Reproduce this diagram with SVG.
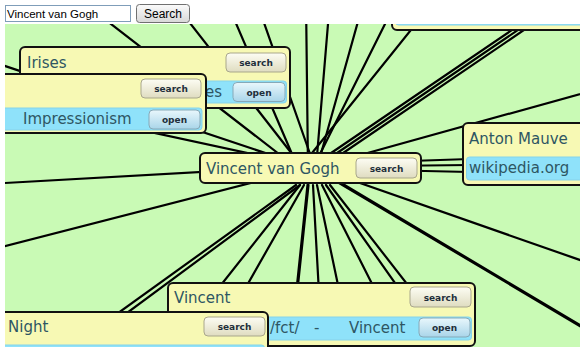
<svg xmlns="http://www.w3.org/2000/svg" width="580" height="347" viewBox="0 0 580 347">
  <defs>
    <linearGradient id="gSearch" x1="0" y1="0" x2="0" y2="1">
      <stop offset="0" stop-color="#fdfdf4"/>
      <stop offset="1" stop-color="#dfdcc0"/>
    </linearGradient>
    <linearGradient id="gOpen" x1="0" y1="0" x2="0" y2="1">
      <stop offset="0" stop-color="#e9f7fc"/>
      <stop offset="1" stop-color="#a9d5e9"/>
    </linearGradient>
    <linearGradient id="gBtn" x1="0" y1="0" x2="0" y2="1">
      <stop offset="0" stop-color="#fbfbfb"/>
      <stop offset="1" stop-color="#d8d8d8"/>
    </linearGradient>
    <clipPath id="view">
      <rect x="5" y="24" width="575" height="323"/>
    </clipPath>
  </defs>
  <style>
    .box{fill:#f7f9b4;stroke:#111;stroke-width:2}
    .row{fill:#8fe2fa;stroke:#86d3ea;stroke-width:1}
    .title{font-family:"DejaVu Sans",Verdana,sans-serif;font-size:15px;fill:#2e5663}
    .bs{fill:url(#gSearch);stroke:#a9a78c;stroke-width:1}
    .bo{fill:url(#gOpen);stroke:#86a9b8;stroke-width:1}
    .bt{font-family:"DejaVu Sans",Verdana,sans-serif;font-weight:bold;font-size:9px;fill:#1f2f3b;text-anchor:middle}
    #edges line{stroke:#000;stroke-width:2.2;stroke-linecap:round}
    #edges line.thick{stroke-width:3.2}
    .ui{font-family:"Liberation Sans",Arial,sans-serif;fill:#000}
  </style>

  <rect width="580" height="347" fill="#fff"/>

  <!-- query bar -->
  <g id="searchbar">
    <rect x="5.5" y="5.5" width="125" height="16" fill="#fff" stroke="#7f9db9"/>
    <text class="ui" x="7" y="18" font-size="11.5">Vincent van Gogh</text>
    <rect x="136.5" y="4.5" width="53" height="18" rx="3" fill="url(#gBtn)" stroke="#707070"/>
    <text class="ui" x="163" y="18" font-size="12" text-anchor="middle">Search</text>
  </g>

  <g clip-path="url(#view)">
    <rect x="5" y="24" width="575" height="323" fill="#c9fab5"/>

    <g id="edges">
      <!-- upward -->
      <line x1="80" y1="0" x2="297" y2="168"/>
      <line x1="172" y1="0" x2="303" y2="168"/>
      <line x1="226" y1="0" x2="298" y2="168"/>
      <line x1="256" y1="0" x2="315" y2="168"/>
      <line x1="306" y1="0" x2="308" y2="168"/>
      <line x1="330" y1="0" x2="316" y2="168"/>
      <line x1="364" y1="0" x2="317" y2="168"/>
      <line x1="397" y1="0" x2="313" y2="168"/>
      <line x1="435" y1="0" x2="300" y2="168"/>
      <line x1="556" y1="0" x2="312" y2="166"/>
      <line x1="562" y1="0" x2="318" y2="166"/>
      <line x1="568" y1="0" x2="324" y2="166"/>
      <!-- left -->
      <line x1="0" y1="64.3" x2="310" y2="168"/>
      <line x1="0" y1="99.6" x2="310" y2="166.6"/>
      <line x1="0" y1="183.3" x2="320" y2="165.2"/>
      <line x1="0" y1="247.4" x2="310" y2="167.8"/>
      <!-- right -->
      <line x1="380" y1="162" x2="470" y2="159"/>
      <line x1="380" y1="166" x2="470" y2="165"/>
      <line x1="380" y1="170" x2="470" y2="172"/>
      <line x1="310" y1="169" x2="600" y2="88.5"/>
      <line x1="330" y1="172.5" x2="600" y2="267"/>
      <line class="thick" x1="330" y1="177" x2="616" y2="347"/>
      <!-- downward -->
      <line x1="296" y1="185" x2="71" y2="347"/>
      <line x1="300" y1="185" x2="81" y2="347"/>
      <line x1="300" y1="185" x2="172" y2="347"/>
      <line x1="304" y1="185" x2="212" y2="347"/>
      <line class="thick" x1="308" y1="185" x2="291" y2="347"/>
      <line x1="313" y1="185" x2="322" y2="347"/>
      <line x1="317" y1="185" x2="351" y2="347"/>
      <line x1="322" y1="185" x2="404" y2="347"/>
      <line x1="326" y1="185" x2="440" y2="347"/>
      <line x1="330" y1="185" x2="456" y2="347"/>
    </g>

    <g id="node-top">
      <rect class="box" x="392" y="-32" width="250" height="62" rx="5"/>
      <rect class="row" x="395.5" y="2" width="240" height="23" rx="3"/>
    </g>

    <g id="node-irises">
      <rect class="box" x="20" y="47" width="270" height="61" rx="5"/>
      <text class="title" x="27" y="68">Irises</text>
      <rect class="bs" x="226" y="53" width="60" height="19" rx="4"/>
      <text class="bt" x="256" y="66">search</text>
      <rect class="row" x="23.5" y="81" width="263" height="22" rx="3"/>
      <text class="title" x="222" y="97" text-anchor="end">es</text>
      <rect class="bo" x="233" y="82.5" width="52" height="19" rx="4"/>
      <text class="bt" x="259" y="95.5">open</text>
    </g>

    <g id="node-impressionism">
      <rect class="box" x="-100" y="74" width="306" height="59" rx="5"/>
      <rect class="bs" x="141" y="79" width="60" height="19" rx="4"/>
      <text class="bt" x="171" y="92">search</text>
      <rect class="row" x="-96.5" y="108" width="298.5" height="22" rx="3"/>
      <text class="title" x="23" y="123.5">Impressionism</text>
      <rect class="bo" x="149" y="110" width="51" height="19" rx="4"/>
      <text class="bt" x="174.5" y="123">open</text>
    </g>

    <g id="node-anton-mauve">
      <rect class="box" x="463" y="123" width="200" height="62" rx="5"/>
      <text class="title" x="469" y="143.5">Anton Mauve</text>
      <rect class="row" x="466.5" y="157" width="200" height="23" rx="3"/>
      <text class="title" x="469" y="173">wikipedia.org</text>
    </g>

    <g id="node-center">
      <rect class="box" x="200" y="153" width="221" height="30" rx="5"/>
      <text class="title" x="206" y="173.5">Vincent van Gogh</text>
      <rect class="bs" x="356" y="158" width="61" height="20" rx="4"/>
      <text class="bt" x="386.5" y="171.5">search</text>
    </g>

    <g id="node-vincent">
      <rect class="box" x="168" y="283" width="307" height="63" rx="5"/>
      <text class="title" x="174" y="303">Vincent</text>
      <rect class="bs" x="410" y="287" width="61" height="20" rx="4"/>
      <text class="bt" x="440.5" y="300.5">search</text>
      <rect class="row" x="171.5" y="317" width="300" height="23" rx="3"/>
      <text class="title" y="333"><tspan x="270">/fct/</tspan><tspan x="314">-</tspan><tspan x="349">Vincent</tspan></text>
      <rect class="bo" x="419" y="318" width="51" height="19" rx="4"/>
      <text class="bt" x="444.5" y="331">open</text>
    </g>

    <g id="node-night">
      <rect class="box" x="-100" y="312" width="368" height="62" rx="5"/>
      <text class="title" x="8" y="331.5">Night</text>
      <rect class="bs" x="204" y="317" width="61" height="19" rx="4"/>
      <text class="bt" x="234.5" y="330">search</text>
      <rect class="row" x="-96.5" y="345" width="361" height="23" rx="3"/>
    </g>
  </g>
</svg>
